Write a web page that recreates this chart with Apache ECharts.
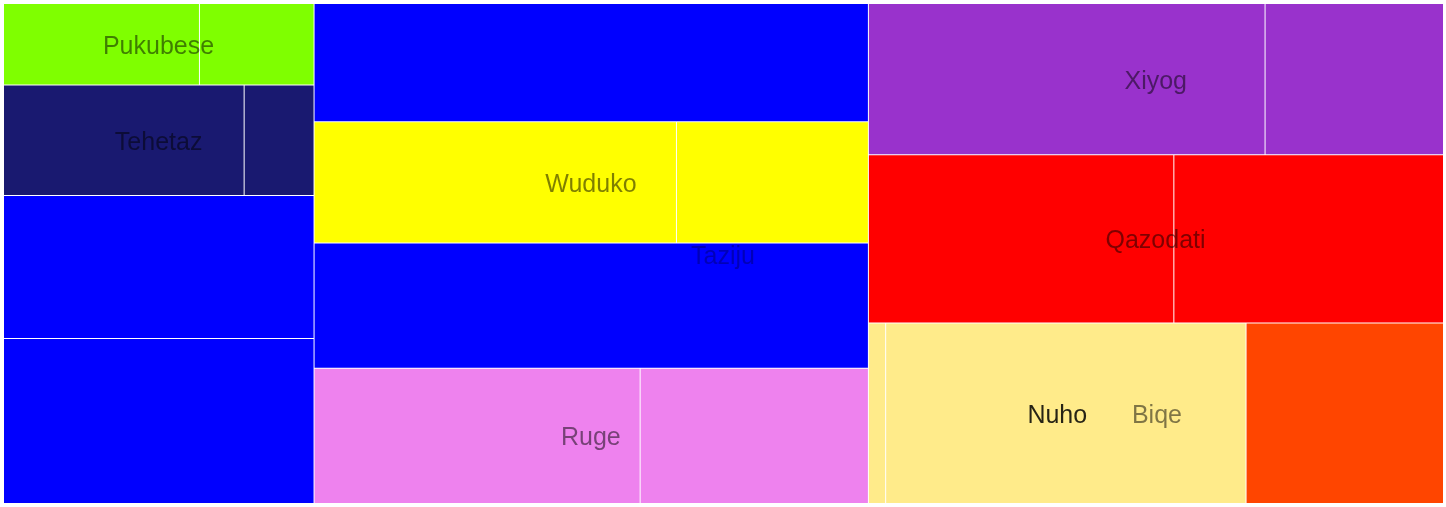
<!DOCTYPE html>
<html>
<head>
<meta charset="utf-8">
<script src="https://cdn.jsdelivr.net/npm/echarts@6/dist/echarts.min.js"></script>
<style>
html,body{margin:0;padding:0;background:#ffffff;}
#chart{width:1446px;height:507px;}
</style>
</head>
<body>
<div id="chart"></div>
<script>
// ---------------- data ----------------
const rootName = 'Taziju';

// three columns, each a list of rows (top -> bottom); each row a list of leaf values (left -> right)
const leftNames = ['Pukubese', 'Tehetaz', '', ''];
const leftValues = [[159, 93], [265, 77], [442], [510]];

const middleNames = ['', 'Wuduko', '', 'Ruge'];
const middleValues = [[654], [438, 232], [692], [440, 308]];

const rightNames = ['Xiyog', 'Qazodati', 'Biqe'];
const rightValues = [[598, 269], [512, 452], [[31, 648], 355]];

// names of nested sub-groups inside a row (in order of appearance)
const nestedNames = { Biqe: ['Nuho'] };

// ---------------- layout / styles ----------------
// how rows of each column are grouped for the squarify pass (indices into the row lists)
const columnStructure = [
  [0, [1, [2, 3]]],
  [0, 1, 2, 3],
  [0, [1, 2]]
];
const COLUMN_RATIOS = [1.18, 4, 1.85]; // squarify tuning per column

const colorOf = {
  Pukubese: '#7fff00',
  Tehetaz: '#191970',
  Wuduko: '#ffff00',
  Ruge: '#ee82ee',
  Xiyog: '#9932cc',
  Qazodati: '#ff0000',
  Biqe: '#ff4500',
  Nuho: '#ffeb8a',
  '': '#0000ff'
};
const labelColorOf = { Nuho: 'rgba(0,0,0,0.85)' };
const LABEL_COLOR = 'rgba(0,0,0,0.5)';
const FONT = '"Liberation Sans", Arial, Helvetica, sans-serif';
const FONT_SIZE = 25;
const BOX = { x: 4, y: 4, w: 1439, h: 499 };

// ---------------- build tree ----------------
function sumOf(v) {
  return Array.isArray(v) ? v.reduce((s, x) => s + sumOf(x), 0) : v;
}

function makeGroup(name, values, parentColor) {
  const color = name !== '' && colorOf[name] !== undefined ? colorOf[name] : (parentColor || colorOf['']);
  const subs = nestedNames[name] || [];
  let subIdx = 0;
  const children = values.map((v, i) => {
    if (Array.isArray(v)) {
      const sn = subs[subIdx++] || '';
      return makeGroup(sn, v, color);
    }
    return { name: (name || 'item') + '-' + (i + 1), value: v, itemStyle: { color: color } };
  });
  return { name: name, children: children, itemStyle: { color: color } };
}

function leavesOf(node, out) {
  if (node.children) node.children.forEach(c => leavesOf(c, out));
  else out.push(node);
  return out;
}

function labelStyle(text, pct) {
  return {
    show: true,
    formatter: text,
    position: [pct.toFixed(2) + '%', '50%'],
    offset: [0, 2.5],
    align: 'center',
    verticalAlign: 'middle',
    color: labelColorOf[text] || LABEL_COLOR,
    fontSize: FONT_SIZE,
    fontFamily: FONT,
    fontWeight: 'normal',
    padding: 0,
    overflow: 'none'
  };
}

// place each named group's label on the leaf under the group's centre (inner groups first)
function assignLabels(group) {
  group.children.forEach(c => { if (c.children) assignLabels(c); });
  if (!group.name) return;
  const leaves = leavesOf(group, []);
  const total = leaves.reduce((s, l) => s + l.value, 0);
  const mid = total / 2;
  let acc = 0, target = -1;
  const offsets = [];
  leaves.forEach((l, i) => {
    offsets.push(acc);
    if (target < 0 && mid >= acc && mid <= acc + l.value) target = i;
    acc += l.value;
  });
  if (leaves[target].label) {
    target = -1;
    for (let i = leaves.length - 1; i >= 0; i--) if (!leaves[i].label) { target = i; break; }
  }
  if (target < 0) return;
  const pct = (mid - offsets[target]) / leaves[target].value * 100;
  leaves[target].label = labelStyle(group.name, pct);
}

function arrange(struct, rows) {
  return struct.map(s => Array.isArray(s)
    ? { name: '', children: arrange(s, rows), itemStyle: { color: colorOf[''] } }
    : rows[s]);
}

const columns = [
  { names: leftNames, values: leftValues },
  { names: middleNames, values: middleValues },
  { names: rightNames, values: rightValues }
];

const colTotals = columns.map(c => sumOf(c.values));
const grand = colTotals.reduce((a, b) => a + b, 0);

let xCursor = BOX.x;
const series = columns.map((col, ci) => {
  const colW = BOX.w * colTotals[ci] / grand;
  const padL = ci === 0 ? 0 : 0.5;
  const padR = ci === columns.length - 1 ? 0 : 0.5;
  const rows = col.names.map((n, ri) => {
    const g = makeGroup(n, col.values[ri], null);
    assignLabels(g);
    return g;
  });
  const s = {
    type: 'treemap',
    name: rootName,
    left: xCursor + padL,
    top: BOX.y,
    width: colW - padL - padR,
    height: BOX.h,
    squareRatio: COLUMN_RATIOS[ci],
    sort: false,
    roam: false,
    nodeClick: false,
    animation: false,
    breadcrumb: { show: false },
    label: { show: false },
    upperLabel: { show: false },
    itemStyle: { gapWidth: 1, borderWidth: 0, borderColor: '#ffffff' },
    emphasis: { disabled: true },
    data: arrange(columnStructure[ci], rows)
  };
  xCursor += colW;
  return s;
});

const chart = echarts.init(document.getElementById('chart'), null, { renderer: 'canvas' });
chart.setOption({
  animation: false,
  backgroundColor: '#ffffff',
  title: {
    text: rootName,
    left: 'center',
    top: '47.3%',
    padding: 5,
    textStyle: { color: 'rgba(0,0,0,0.28)', fontSize: FONT_SIZE, fontWeight: 'normal', fontFamily: FONT }
  },
  tooltip: { show: false },
  series: series
});
</script>
</body>
</html>
